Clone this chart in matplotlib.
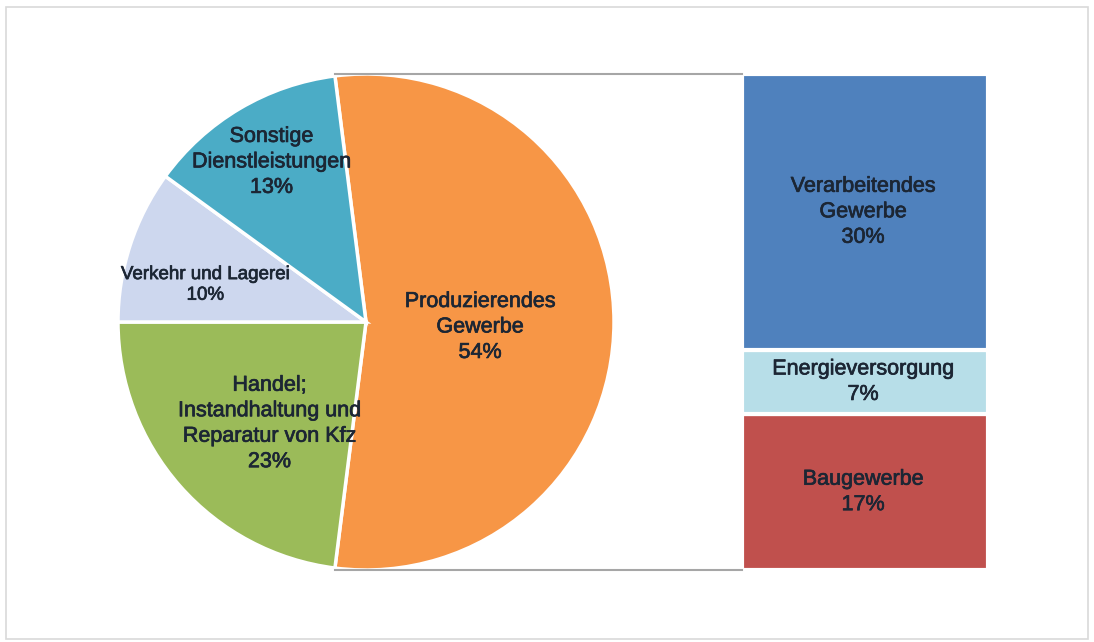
import matplotlib.pyplot as plt
import matplotlib.patheffects as pe
from matplotlib.patches import Rectangle
import numpy as np

plt.rcParams['font.family'] = ['Liberation Sans', 'DejaVu Sans']

# pie data (clockwise, starting with the slice broken down in the bar)
pie_labels = ['Produzierendes\nGewerbe', 'Handel;\nInstandhaltung und\nReparatur von Kfz',
              'Verkehr und Lagerei', 'Sonstige\nDienstleistungen']
pie_values = [54, 23, 10, 13]
pie_colors = ['#F79646', '#9BBB59', '#CDD7EE', '#4BACC6']

# breakdown of the first slice (bottom to top)
bar_labels = ['Baugewerbe', 'Energieversorgung', 'Verarbeitendes\nGewerbe']
bar_values = [17, 7, 30]
bar_colors = ['#C0504D', '#B7DEE8', '#4F81BD']

W, H = 1094, 642
fig = plt.figure(figsize=(W / 100, H / 100), dpi=100)
ax = fig.add_axes([0, 0, 1, 1])

cx, cy, r = 366, 320, 248
start = 360 * pie_values[0] / 100 / 2  # first slice centred on the right
wedges, _ = ax.pie(pie_values, colors=pie_colors, startangle=start, counterclock=False,
                   center=(cx, cy), radius=r, frame=True,
                   wedgeprops=dict(edgecolor='white', linewidth=2.5))

txt = '#1c2634'
fs = 15.5
heavy = [pe.withStroke(linewidth=0.5, foreground=txt)]
# label spots: (radius fraction, angle offset from wedge middle, font size)
pie_spots = [(0.46, -2.5, fs), (0.565, 5, fs), (0.665, 5, 13.5), (0.75, 0, fs)]
for w, lab, val, (f, off, size) in zip(wedges, pie_labels, pie_values, pie_spots):
    a = np.deg2rad((w.theta1 + w.theta2) / 2 + off)
    ax.text(cx + f * r * np.cos(a), cy + f * r * np.sin(a), f'{lab}\n{val}%',
            ha='center', va='center', fontsize=size, color=txt, linespacing=1.28,
            path_effects=heavy)

# stacked bar on the right, same scale as the pie diameter
scale = 2 * r / sum(bar_values)
bx, bw = 865, 246
bottom = cy - r
for lab, val, col in zip(bar_labels, bar_values, bar_colors):
    h = val * scale
    ax.bar(bx, h, bottom=bottom, width=bw, color=col, edgecolor='white', linewidth=3)
    ax.text(bx - 2, bottom + h / 2, f'{lab}\n{val}%', ha='center', va='center',
            fontsize=fs, color=txt, linespacing=1.28, path_effects=heavy)
    bottom += h

# connector lines from the top/bottom of the first slice to the bar
a0 = np.deg2rad(wedges[0].theta2)
a1 = np.deg2rad(wedges[0].theta1)
ax.plot([cx + r * np.cos(a0), bx - bw / 2], [cy + r, cy + r], color='#A6A6A6', lw=1.5)
ax.plot([cx + r * np.cos(a1), bx - bw / 2], [cy - r, cy - r], color='#A6A6A6', lw=1.5)

# outer chart border
ax.add_patch(Rectangle((6, 3), 1082, 632, fill=False, edgecolor='#D9D9D9', lw=1.2))

ax.set_xlim(0, W)
ax.set_ylim(0, H)
ax.set_aspect('auto')
ax.axis('off')

fig.savefig('out.png', dpi=100)
